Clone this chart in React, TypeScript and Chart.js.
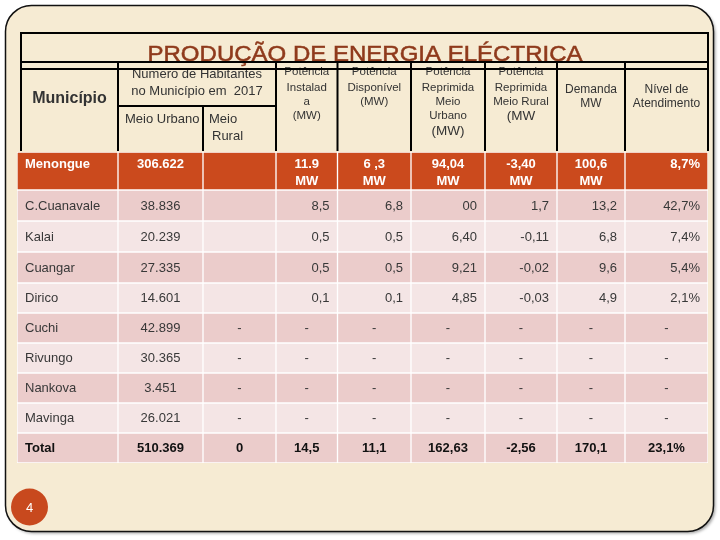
import React, { useEffect, useRef } from 'react';
import { Chart, registerables } from 'chart.js';

Chart.register(...registerables);

// ---------- Data (table values, as printed) ----------
const municipios = ['Menongue', 'C.Cuanavale', 'Kalai', 'Cuangar', 'Dirico', 'Cuchi', 'Rivungo', 'Nankova', 'Mavinga', 'Total'];
const habitantesUrbano = ['306.622', '38.836', '20.239', '27.335', '14.601', '42.899', '30.365', '3.451', '26.021', '510.369'];
const habitantesRural = ['', '', '', '', '', '-', '-', '-', '-', '0'];
const potenciaInstalada = ['11.9\nMW', '8,5', '0,5', '0,5', '0,1', '-', '-', '-', '-', '14,5'];
const potenciaDisponivel = ['6 ,3\nMW', '6,8', '0,5', '0,5', '0,1', '-', '-', '-', '-', '11,1'];
const reprimidaUrbano = ['94,04\nMW', '00', '6,40', '9,21', '4,85', '-', '-', '-', '-', '162,63'];
const reprimidaRural = ['-3,40\nMW', '1,7', '-0,11', '-0,02', '-0,03', '-', '-', '-', '-', '-2,56'];
const demanda = ['100,6\nMW', '13,2', '6,8', '9,6', '4,9', '-', '-', '-', '-', '170,1'];
const nivelAtendimento = ['8,7%', '42,7%', '7,4%', '5,4%', '2,1%', '-', '-', '-', '-', '23,1%'];

const title = 'PRODUÇÃO DE ENERGIA ELÉCTRICA';
const pageNumber = '4';

// ---------- Layout (column widths / row heights in scale units) ----------
const colWidths = [101, 85, 73, 61.5, 73.5, 74, 72, 68, 83];
const rowHeights = [38, 31, 31, 31, 30, 30, 30, 30, 30, 30];

const columns = [
  municipios, habitantesUrbano, habitantesRural, potenciaInstalada, potenciaDisponivel,
  reprimidaUrbano, reprimidaRural, demanda, nivelAtendimento,
];

const colEdges: number[] = [0];
colWidths.forEach((w) => colEdges.push(colEdges[colEdges.length - 1] + w));
const totalW = colEdges[colEdges.length - 1];
const rowEdges: number[] = [0];
rowHeights.forEach((h) => rowEdges.push(rowEdges[rowEdges.length - 1] + h));
const totalH = rowEdges[rowEdges.length - 1];

const FONT = '"Liberation Sans", Arial, sans-serif';
const ORANGE = '#CB4A1D';
const PINK_DARK = '#EBCCCB';
const PINK_LIGHT = '#F4E5E5';
const PARCHMENT = '#F6EBD3';

function rowColor(r: number) {
  if (r === 0) return ORANGE;
  return r % 2 === 1 ? PINK_DARK : PINK_LIGHT;
}

function roundRect(ctx: CanvasRenderingContext2D, x: number, y: number, w: number, h: number, r: number) {
  ctx.beginPath();
  ctx.moveTo(x + r, y);
  ctx.lineTo(x + w - r, y);
  ctx.arcTo(x + w, y, x + w, y + r, r);
  ctx.lineTo(x + w, y + h - r);
  ctx.arcTo(x + w, y + h, x + w - r, y + h, r);
  ctx.lineTo(x + r, y + h);
  ctx.arcTo(x, y + h, x, y + h - r, r);
  ctx.lineTo(x, y + r);
  ctx.arcTo(x, y, x + r, y, r);
  ctx.closePath();
}

const tablePlugin = {
  id: 'tableDecor',
  beforeDraw(chart: any) {
    const ctx: CanvasRenderingContext2D = chart.ctx;
    const xs = colEdges.map((e) => chart.scales.x.getPixelForValue(e));
    const top = chart.chartArea.top;
    ctx.save();
    ctx.fillStyle = '#ffffff';
    ctx.fillRect(0, 0, chart.width, chart.height);

    // slide frame
    ctx.save();
    ctx.shadowColor = 'rgba(0,0,0,0.35)';
    ctx.shadowBlur = 3;
    ctx.shadowOffsetX = 2;
    ctx.shadowOffsetY = 2;
    roundRect(ctx, 5.5, 5.5, 708, 526, 26);
    ctx.fillStyle = PARCHMENT;
    ctx.fill();
    ctx.restore();
    roundRect(ctx, 5.5, 5.5, 708, 526, 26);
    ctx.lineWidth = 1.5;
    ctx.strokeStyle = '#111';
    ctx.stroke();

    // title
    const hTop = top - 119;
    ctx.fillStyle = '#8F3A1C';
    ctx.strokeStyle = '#8F3A1C';
    ctx.lineWidth = 0.5;
    ctx.font = `22px ${FONT}`;
    const tw = ctx.measureText(title).width;
    ctx.save();
    ctx.translate((xs[0] + 4 + xs[9]) / 2 + 0.5, hTop + 27.5);
    ctx.scale(435 / tw, 1);
    ctx.textAlign = 'center';
    ctx.textBaseline = 'alphabetic';
    ctx.fillText(title, 0, 0);
    ctx.strokeText(title, 0, 0);
    ctx.restore();

    // header texts
    ctx.fillStyle = '#333';
    const centerOf = (c: number) => (xs[c] + xs[c + 1]) / 2;
    const put = (t: string, x: number, y: number, font: string, align: CanvasTextAlign = 'center') => {
      ctx.font = font;
      ctx.textAlign = align;
      ctx.textBaseline = 'middle';
      ctx.fillText(t, x, y);
    };
    const f11 = `11.5px ${FONT}`;
    const f12 = `12px ${FONT}`;
    const f13 = `13px ${FONT}`;
    const f135 = `13.5px ${FONT}`;
    put('Município', (xs[0] + 4 + xs[1]) / 2, hTop + 66, `bold 16px ${FONT}`);
    put('Numero de Habitantes', (xs[1] + xs[3]) / 2, hTop + 41, f13);
    put('no Município em  2017', (xs[1] + xs[3]) / 2, hTop + 58, f13);
    put('Meio Urbano', xs[1] + 7, hTop + 86, f13, 'left');
    put('Meio', xs[2] + 6, hTop + 86, f13, 'left');
    put('Rural', xs[2] + 9, hTop + 103, f13, 'left');
    const potenciaLines: [string, string][][] = [
      [['Potência', f11], ['Instalad', f11], ['a', f11], ['(MW)', f11]],
      [['Potência', f11], ['Disponível', f11], ['(MW)', f11]],
      [['Potência', f11], ['Reprimida', f11], ['Meio', f11], ['Urbano', f11], ['(MW)', f135]],
      [['Potência', f11], ['Reprimida', f11], ['Meio Rural', f11], ['(MW', f135]],
    ];
    const potY = [38.5, 54.5, 68.5, 83, 98];
    potenciaLines.forEach((lines, i) => {
      lines.forEach(([t, f], k) => put(t, centerOf(3 + i), hTop + potY[k], f));
    });
    put('Demanda', centerOf(7), hTop + 57, f12);
    put('MW', centerOf(7), hTop + 71, f12);
    put('Nível de', centerOf(8), hTop + 57, f12);
    put('Atendimento', centerOf(8), hTop + 71, f12);

    // header lines
    ctx.strokeStyle = '#000';
    ctx.lineWidth = 2;
    const L = xs[0] + 4;
    const R = xs[9];
    const bottom = top - 1;
    const line = (x1: number, y1: number, x2: number, y2: number) => {
      ctx.beginPath();
      ctx.moveTo(x1, y1);
      ctx.lineTo(x2, y2);
      ctx.stroke();
    };
    line(L - 1, hTop, R + 1, hTop);
    line(L - 1, hTop + 29, R + 1, hTop + 29);
    line(L - 1, hTop + 36, R + 1, hTop + 36);
    line(L, hTop, L, bottom);
    line(R, hTop, R, bottom);
    for (let c = 1; c < 9; c++) {
      if (c === 2) continue;
      line(xs[c], hTop + 29, xs[c], bottom);
    }
    line(xs[1], hTop + 73, xs[3], hTop + 73);
    line(xs[2], hTop + 73, xs[2], bottom);

    // page number
    ctx.beginPath();
    ctx.arc(29.5, 507, 18.5, 0, Math.PI * 2);
    ctx.fillStyle = '#C8491E';
    ctx.fill();
    ctx.fillStyle = '#fff';
    put(pageNumber, 29.5, 508, `13px ${FONT}`);
    ctx.restore();
  },
  beforeDatasetsDraw(chart: any) {
    const { ctx, chartArea } = chart;
    ctx.save();
    ctx.fillStyle = '#ffffff';
    ctx.fillRect(chartArea.left, chartArea.top, chartArea.right - chartArea.left, chartArea.bottom - chartArea.top);
    ctx.restore();
  },
  afterDatasetsDraw(chart: any) {
    const ctx: CanvasRenderingContext2D = chart.ctx;
    ctx.save();
    ctx.textBaseline = 'middle';
    chart.data.datasets.forEach((_ds: any, r: number) => {
      const meta = chart.getDatasetMeta(r);
      meta.data.forEach((el: any, c: number) => {
        const p = el.getProps(['x', 'y', 'base', 'height'], true);
        const left = Math.min(p.x, p.base);
        const right = Math.max(p.x, p.base);
        const text: string = columns[c][r];
        if (!text) return;
        const isHead = r === 0;
        const isTotal = r === rowHeights.length - 1;
        ctx.font = (isHead || isTotal ? 'bold ' : '') + `13px ${FONT}`;
        ctx.fillStyle = isHead ? '#ffffff' : isTotal ? '#111' : '#383838';
        let align: CanvasTextAlign = 'center';
        let tx = (left + right) / 2;
        if (c === 0) {
          align = 'left';
          tx = left + 7;
        } else if (c >= 3 && ((r >= 1 && r <= 4) || (isHead && c === 8))) {
          align = 'right';
          tx = right - 7;
        }
        ctx.textAlign = align;
        const lines = text.split('\n');
        if (isHead) {
          const rowTop = p.y - p.height / 2;
          lines.forEach((ln, k) => ctx.fillText(ln, tx, rowTop + 11 + k * 17));
        } else {
          ctx.fillText(lines[0], tx, p.y + 0.5);
        }
      });
    });
    ctx.restore();
  },
};

export default function App() {
  const ref = useRef<HTMLCanvasElement>(null);
  useEffect(() => {
    document.body.style.margin = '0';
    const canvas = ref.current!;
    const datasets = municipios.map((name, r) => {
      const center = (rowEdges[r] + rowEdges[r + 1]) / 2;
      return {
        label: name,
        data: colWidths.map((w, c) => ({ x: [colEdges[c] + 1, colEdges[c] + w - 1], y: center })),
        backgroundColor: rowColor(r),
        borderWidth: 0,
        barThickness: rowHeights[r] - 2,
        grouped: false,
      };
    });
    const chart = new Chart(canvas, {
      type: 'bar',
      data: { datasets: datasets as any },
      options: {
        indexAxis: 'y',
        animation: false,
        responsive: false,
        devicePixelRatio: 1,
        events: [],
        layout: { padding: { left: 17, right: 12, top: 152, bottom: 77 } },
        plugins: { legend: { display: false }, tooltip: { enabled: false } },
        scales: {
          x: { type: 'linear', min: 0, max: totalW, display: false, bounds: 'data', offset: false },
          y: { type: 'linear', min: 0, max: totalH, reverse: true, display: false, bounds: 'data', offset: false },
        },
      } as any,
      plugins: [tablePlugin],
    });
    return () => chart.destroy();
  }, []);
  return <canvas ref={ref} width={720} height={540} style={{ display: 'block', width: 720, height: 540 }} />;
}
